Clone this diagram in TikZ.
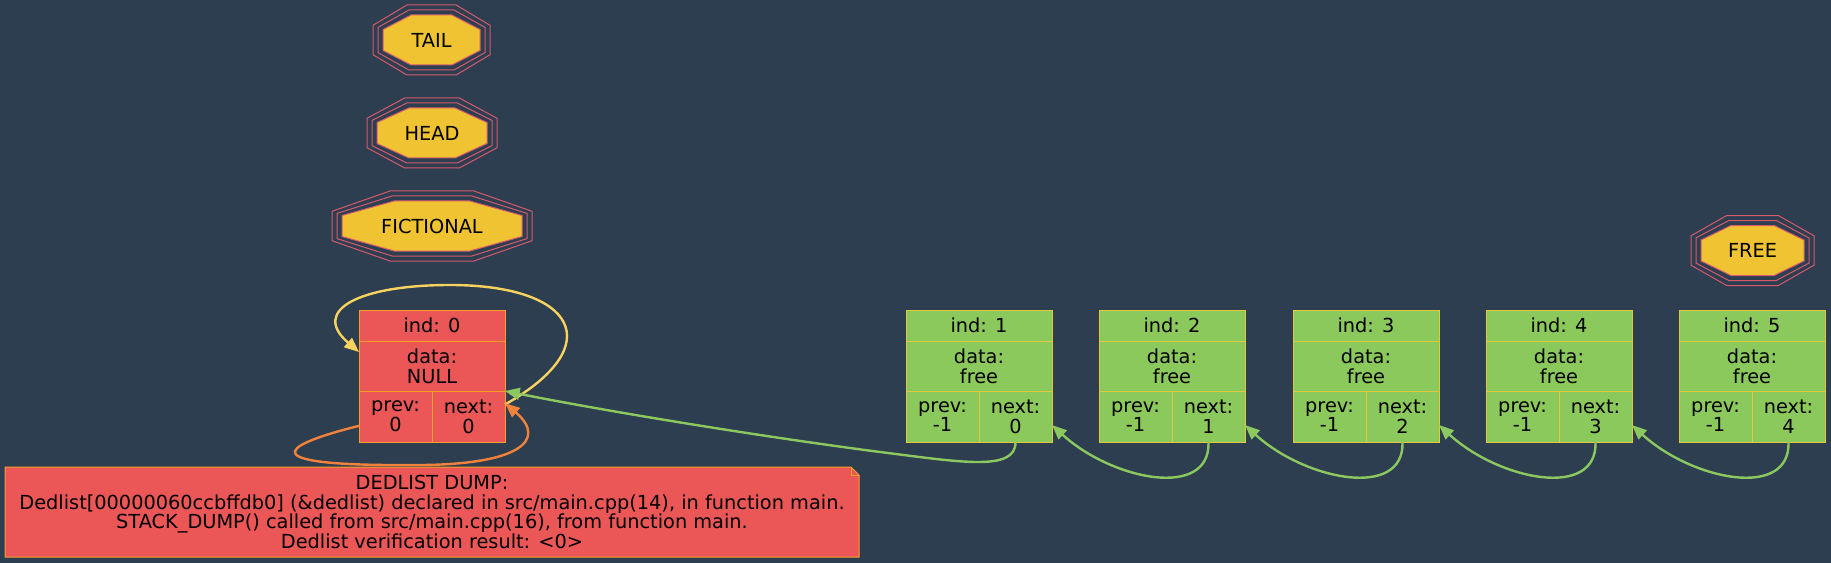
\documentclass[tikz,border=0pt]{standalone}
\usepackage{fontspec}
\setmainfont{DejaVu Sans}
\usetikzlibrary{arrows.meta}

\definecolor{bgblue}{RGB}{44,62,80}
\definecolor{redfill}{RGB}{235,87,87}
\definecolor{redline}{RGB}{247,160,40}
\definecolor{greenfill}{RGB}{139,201,92}
\definecolor{greenline}{RGB}{226,200,60}
\definecolor{octfill}{RGB}{240,195,50}
\definecolor{octline}{RGB}{214,90,110}
\definecolor{yellowedge}{RGB}{248,210,95}
\definecolor{orangeedge}{RGB}{240,130,60}
\definecolor{greenedge}{RGB}{140,200,95}

\tikzset{every picture/.style={line width=0.75pt}}

\begin{document}
\begin{tikzpicture}[x=0.75pt,y=0.75pt,yscale=-1,xscale=1,
  txt/.style={inner sep=0pt, outer sep=0pt, align=center, text=black, font=\fontsize{14.5}{14.8}\selectfont},
  redcell/.style={txt, draw=redline, fill=redfill},
  greencell/.style={txt, draw=greenline, fill=greenfill},
  indrow/.style={minimum width=109.5pt, minimum height=23.25pt, anchor=north west},
  datarow/.style={minimum width=109.5pt, minimum height=37.5pt, anchor=north west},
  halfrow/.style={minimum width=54.75pt, minimum height=38.25pt, anchor=north west},
  octin/.style={draw=octline, fill=octfill},
  octout/.style={draw=octline},
  link/.style={line width=1.8pt, -{Triangle[length=11pt,width=9pt]}}
]
%uncomment if require: \path (0,563); %set diagram left start at 0, and has height of 563
\useasboundingbox (0,0) rectangle (1831,563);
\fill[bgblue] (0,0) rectangle (1831,563);

%Shape: Octagon [TAIL]
\draw[octout] (373,25.3) -- (406.9,5) -- (456.1,5) -- (490,25.3) -- (490,54.7) -- (456.1,75) -- (406.9,75) -- (373,54.7) -- cycle ;
\draw[octout] (378,27.4) -- (409,10) -- (454,10) -- (485,27.4) -- (485,52.6) -- (454,70) -- (409,70) -- (378,52.6) -- cycle ;
\draw[octin] (383,29.5) -- (411.1,15) -- (451.9,15) -- (480,29.5) -- (480,50.5) -- (451.9,65) -- (411.1,65) -- (383,50.5) -- cycle ;
%Shape: Octagon [HEAD]
\draw[octout] (367,118.3) -- (404.7,98) -- (459.3,98) -- (497,118.3) -- (497,147.7) -- (459.3,168) -- (404.7,168) -- (367,147.7) -- cycle ;
\draw[octout] (372,120.4) -- (406.8,103) -- (457.2,103) -- (492,120.4) -- (492,145.6) -- (457.2,163) -- (406.8,163) -- (372,145.6) -- cycle ;
\draw[octin] (377,122.5) -- (408.9,108) -- (455.1,108) -- (487,122.5) -- (487,143.5) -- (455.1,158) -- (408.9,158) -- (377,143.5) -- cycle ;
%Shape: Octagon [FICTIONAL]
\draw[octout] (332,211.3) -- (390,191) -- (474,191) -- (532,211.3) -- (532,240.7) -- (474,261) -- (390,261) -- (332,240.7) -- cycle ;
\draw[octout] (337,213.4) -- (392.1,196) -- (471.9,196) -- (527,213.4) -- (527,238.6) -- (471.9,256) -- (392.1,256) -- (337,238.6) -- cycle ;
\draw[octin] (342,215.5) -- (394.2,201) -- (469.8,201) -- (522,215.5) -- (522,236.5) -- (469.8,251) -- (394.2,251) -- (342,236.5) -- cycle ;
%Shape: Octagon [FREE]
\draw[octout] (1691,235.8) -- (1726.7,215.5) -- (1778.3,215.5) -- (1814,235.8) -- (1814,265.2) -- (1778.3,285.5) -- (1726.7,285.5) -- (1691,265.2) -- cycle ;
\draw[octout] (1696,237.9) -- (1728.8,220.5) -- (1776.2,220.5) -- (1809,237.9) -- (1809,263.1) -- (1776.2,280.5) -- (1728.8,280.5) -- (1696,263.1) -- cycle ;
\draw[octin] (1701,240) -- (1730.9,225.5) -- (1774.1,225.5) -- (1804,240) -- (1804,261) -- (1774.1,275.5) -- (1730.9,275.5) -- (1701,261) -- cycle ;

% Text Node
\node[txt] (tail) at (431.5,40) {TAIL};
% Text Node
\node[txt] (head) at (432,133) {HEAD};
% Text Node
\node[txt] (fictional) at (432,226) {FICTIONAL};
% Text Node
\node[txt] (free) at (1752.5,250.5) {FREE};

%Shape: Record [ind 0]
\node[redcell, indrow] (ind0) at (359,310) {ind: 0};
\node[redcell, datarow] (data0) at (359,341) {data:\\NULL};
\node[redcell, halfrow] (prev0) at (359,391) {prev:\\0};
\node[redcell, halfrow] (next0) at (432,391) {next:\\0};
%Shape: Record [ind 1]
\node[greencell, indrow] (ind1) at (906,310) {ind: 1};
\node[greencell, datarow] (data1) at (906,341) {data:\\free};
\node[greencell, halfrow] (prev1) at (906,391) {prev:\\-1};
\node[greencell, halfrow] (next1) at (979,391) {next:\\0};
%Shape: Record [ind 2]
\node[greencell, indrow] (ind2) at (1099,310) {ind: 2};
\node[greencell, datarow] (data2) at (1099,341) {data:\\free};
\node[greencell, halfrow] (prev2) at (1099,391) {prev:\\-1};
\node[greencell, halfrow] (next2) at (1172,391) {next:\\1};
%Shape: Record [ind 3]
\node[greencell, indrow] (ind3) at (1293,310) {ind: 3};
\node[greencell, datarow] (data3) at (1293,341) {data:\\free};
\node[greencell, halfrow] (prev3) at (1293,391) {prev:\\-1};
\node[greencell, halfrow] (next3) at (1366,391) {next:\\2};
%Shape: Record [ind 4]
\node[greencell, indrow] (ind4) at (1486,310) {ind: 4};
\node[greencell, datarow] (data4) at (1486,341) {data:\\free};
\node[greencell, halfrow] (prev4) at (1486,391) {prev:\\-1};
\node[greencell, halfrow] (next4) at (1559,391) {next:\\3};
%Shape: Record [ind 5]
\node[greencell, indrow] (ind5) at (1679,310) {ind: 5};
\node[greencell, datarow] (data5) at (1679,341) {data:\\free};
\node[greencell, halfrow] (prev5) at (1679,391) {prev:\\-1};
\node[greencell, halfrow] (next5) at (1752,391) {next:\\4};

%Shape: Note [dump]
\draw[draw=redline, fill=redfill] (5,467) -- (851,467) -- (859,475) -- (859,557) -- (5,557) -- cycle ;
\draw[draw=redline] (851,467) -- (851,475) -- (859,475) ;
% Text Node
\node[txt] (dump) at (432,512) {DEDLIST DUMP:\\Dedlist[00000060ccbffdb0] (\&dedlist) declared in src/main.cpp(14), in function main.\\STACK\_DUMP() called from src/main.cpp(16), from function main.\\Dedlist verification result: <0>};

%Curve Lines [next0 to data0]
\draw[link, yellowedge] ([yshift=-9pt]next0.east) .. controls (610,345) and (575,285) .. (450,285) .. controls (360,285) and (310,310) .. ([yshift=-10.5pt]data0.west) ;
%Curve Lines [prev0 to next0]
\draw[link, orangeedge] ([yshift=7pt]prev0.west) .. controls (270,448) and (262,466) .. (410,465) .. controls (520,466) and (548,440) .. ([yshift=-10pt]next0.east) ;
%Curve Lines [next1 to data0]
\draw[link, greenedge] (next1.south) .. controls (1016,472) and (960,462) .. (880,452) .. controls (750,435) and (600,410) .. (data0.south east) ;
%Curve Lines [next2 to next1]
\draw[link, greenedge] (next2.south) .. controls +(2,58) and +(60,55) .. ([yshift=6.4pt]next1.east) ;
%Curve Lines [next3 to next2]
\draw[link, greenedge] (next3.south) .. controls +(2,58) and +(60,55) .. ([yshift=6.4pt]next2.east) ;
%Curve Lines [next4 to next3]
\draw[link, greenedge] (next4.south) .. controls +(2,58) and +(60,55) .. ([yshift=6.4pt]next3.east) ;
%Curve Lines [next5 to next4]
\draw[link, greenedge] (next5.south) .. controls +(2,58) and +(60,55) .. ([yshift=6.4pt]next4.east) ;

\end{tikzpicture}
\end{document}
